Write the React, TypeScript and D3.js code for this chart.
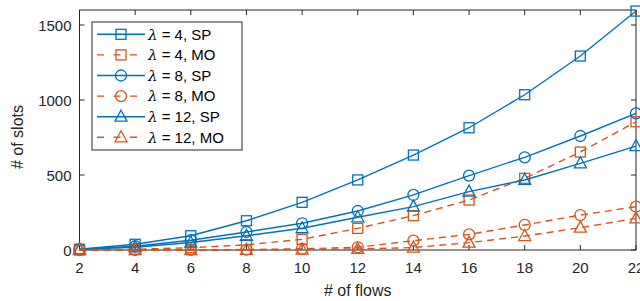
import * as React from 'react';
import {scaleLinear, line as d3Line} from 'd3';

const flows = [2, 4, 6, 8, 10, 12, 14, 16, 18, 20, 22];
const sp4 = [5, 38, 95, 195, 318, 467, 633, 815, 1035, 1293, 1593];
const mo4 = [0, 5, 15, 35, 71, 144, 229, 333, 478, 653, 855];
const sp8 = [5, 25, 65, 120, 178, 260, 367, 496, 618, 760, 911];
const mo8 = [0, 0, 1, 3, 8, 18, 62, 104, 167, 233, 289];
const sp12 = [4, 18, 50, 95, 145, 218, 289, 389, 467, 578, 693];
const mo12 = [0, 0, 0, 1, 3, 7, 16, 49, 93, 149, 211];
const xTicks = [2, 4, 6, 8, 10, 12, 14, 16, 18, 20, 22];
const yTicks = [0, 500, 1000, 1500];

const BLUE = '#0072BD';
const ORANGE = '#D95319';

const seriesList = [
  {name: 'λ = 4, SP', values: sp4, color: BLUE, dash: '', marker: 'square'},
  {name: 'λ = 4, MO', values: mo4, color: ORANGE, dash: '7,5', marker: 'square'},
  {name: 'λ = 8, SP', values: sp8, color: BLUE, dash: '', marker: 'circle'},
  {name: 'λ = 8, MO', values: mo8, color: ORANGE, dash: '7,5', marker: 'circle'},
  {name: 'λ = 12, SP', values: sp12, color: BLUE, dash: '', marker: 'triangle'},
  {name: 'λ = 12, MO', values: mo12, color: ORANGE, dash: '7,5', marker: 'triangle'},
];

function Marker(props: {kind: string, x: number, y: number, color: string}) {
  const {kind, x, y, color} = props;
  if (kind === 'square') {
    return <rect x={x - 5} y={y - 5} width={10} height={10} fill="none" stroke={color} strokeWidth={1.3} />;
  }
  if (kind === 'circle') {
    return <circle cx={x} cy={y} r={5.5} fill="none" stroke={color} strokeWidth={1.3} />;
  }
  return <path d={`M${x},${y - 6.5}L${x + 6},${y + 4.5}L${x - 6},${y + 4.5}Z`} fill="none" stroke={color} strokeWidth={1.3} />;
}

export default function App() {
  const width = 640, height = 301;
  const margins = {left: 79.5, right: 4, top: 10, bottom: 51};
  const x = scaleLinear().domain([2, 22]).range([margins.left, width - margins.right]);
  const y = scaleLinear().domain([0, 1600]).range([height - margins.bottom, margins.top]);
  const axisColor = '#262626';
  const tick = 5;
  const font = 'Liberation Sans, Arial, sans-serif';

  const valueline = d3Line<number>()
    .x((_, i) => x(flows[i]))
    .y((d) => y(d));

  const legendX = 92, legendY = 22, rowH = 20.6;

  return <svg width={width} height={height} style={{position: 'absolute', left: 0, top: 0}} fontFamily={font}>
    <rect x={0} y={0} width={width} height={height} fill="white" />
    {/* axes box */}
    <rect x={x(2)} y={y(1600)} width={x(22) - x(2)} height={y(0) - y(1600)} fill="none" stroke={axisColor} strokeWidth={1} />
    {xTicks.map((t) => <g key={'xt' + t}>
      <line x1={x(t)} x2={x(t)} y1={y(0)} y2={y(0) - tick} stroke={axisColor} />
      <line x1={x(t)} x2={x(t)} y1={y(1600)} y2={y(1600) + tick} stroke={axisColor} />
      <text x={x(t)} y={y(0) + 23} textAnchor="middle" fontSize={15} fill={axisColor}>{t}</text>
    </g>)}
    {yTicks.map((t) => <g key={'yt' + t}>
      <line x1={x(2)} x2={x(2) + tick} y1={y(t)} y2={y(t)} stroke={axisColor} />
      <line x1={x(22)} x2={x(22) - tick} y1={y(t)} y2={y(t)} stroke={axisColor} />
      <text x={x(2) - 8} y={y(t) + 5.5} textAnchor="end" fontSize={15} fill={axisColor}>{t}</text>
    </g>)}
    <text x={(x(2) + x(22)) / 2} y={296} textAnchor="middle" fontSize={16} fill={axisColor}># of flows</text>
    <text transform={`translate(23, 137) rotate(-90)`} textAnchor="middle" fontSize={16} fill={axisColor}># of slots</text>

    {seriesList.map((s) => <g key={s.name}>
      <path d={valueline(s.values) || ''} fill="none" stroke={s.color} strokeWidth={1.4} strokeDasharray={s.dash} />
      {s.values.map((v, i) => <Marker key={i} kind={s.marker} x={x(flows[i])} y={y(v)} color={s.color} />)}
    </g>)}

    {/* legend */}
    <rect x={legendX} y={legendY} width={150} height={128} fill="white" stroke={axisColor} strokeWidth={1} />
    {seriesList.map((s, i) => {
      const ly = legendY + 12.3 + i * rowH;
      return <g key={'lg' + i}>
        <line x1={97} x2={145} y1={ly} y2={ly} stroke={s.color} strokeWidth={1.4} strokeDasharray={s.dash ? '7,9.5' : ''} />
        <Marker kind={s.marker} x={121} y={ly} color={s.color} />
        <text x={148} y={ly + 5.3} fontSize={15} fill="#000">
          <tspan fontFamily="DejaVu Serif, serif" fontStyle="italic">λ</tspan>{s.name.slice(1)}
        </text>
      </g>;
    })}
  </svg>;
}
